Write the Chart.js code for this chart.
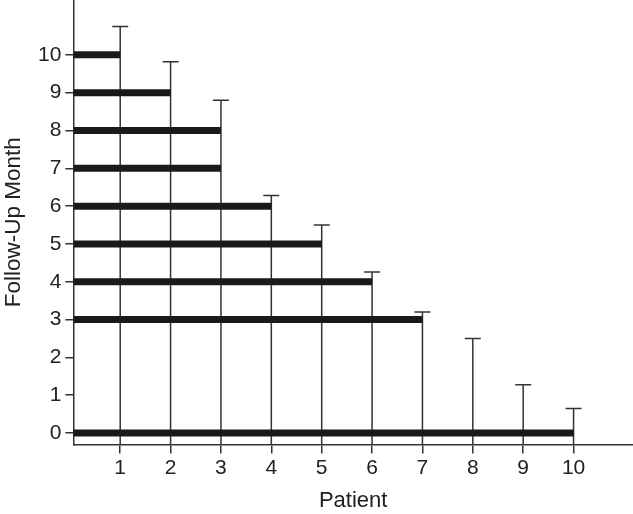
<!DOCTYPE html>
<html>
<head>
<meta charset="utf-8">
<script src="https://cdn.jsdelivr.net/npm/chart.js@4.4.1/dist/chart.umd.min.js"></script>
<style>
  html, body { margin: 0; padding: 0; background: #fff; }
  #wrap { width: 633px; height: 514px; position: relative; }
</style>
</head>
<body>
<div id="wrap"><canvas id="chart"></canvas></div>
<script>
// patients on the x axis, follow-up month ticks on the y axis
const patients = [1, 2, 3, 4, 5, 6, 7, 8, 9, 10];
const monthTicks = [0, 1, 2, 3, 4, 5, 6, 7, 8, 9, 10];

// height of each patient's vertical line (top cap)
const capHeights = [10.75, 9.82, 8.8, 6.28, 5.5, 4.26, 3.2, 2.5, 1.28, 0.65];

// thick horizontal bars: month level and the patient they reach
const barMonths = [10, 9, 8, 7, 6, 5, 4, 3, 0];
const barEnds = [1, 2, 3, 3, 4, 5, 6, 7, 10];

const X_MIN = 0.07, X_MAX = 11.18;
const Y_MIN = -0.3, Y_MAX = 11.45;

const ink = "#333";
const barInk = "#1a1a1a";
const font = "'Liberation Sans', Arial, sans-serif";

const datasets = [];

// vertical lines with a cap on top
patients.forEach((p, i) => {
  datasets.push({
    data: [{ x: p, y: Y_MIN }, { x: p, y: capHeights[i] }],
    borderColor: ink,
    borderWidth: 1.5,
    pointRadius: [0, 8],
    pointStyle: "line",
    pointBorderColor: ink,
    pointBorderWidth: 1.5,
    order: 2
  });
});

// horizontal bars
barMonths.forEach((m, i) => {
  datasets.push({
    data: [{ x: X_MIN, y: m }, { x: barEnds[i], y: m }],
    borderColor: barInk,
    borderWidth: 7,
    borderCapStyle: "butt",
    pointRadius: 0,
    order: 1
  });
});

// the axes run right to the canvas edge, so drop the label padding
function noEdgePadding(s) {
  s.paddingTop = 0;
  s.paddingRight = 0;
  s.paddingLeft = 0;
}

new Chart(document.getElementById("chart"), {
  type: "scatter",
  data: { datasets },
  options: {
    responsive: true,
    maintainAspectRatio: false,
    animation: false,
    showLine: true,
    layout: { padding: 0, autoPadding: false },
    plugins: { legend: { display: false }, tooltip: { enabled: false } },
    scales: {
      x: {
        type: "linear",
        min: X_MIN,
        max: X_MAX,
        afterBuildTicks: (s) => { s.ticks = patients.map(v => ({ value: v })); },
        afterFit: noEdgePadding,
        border: { display: true, color: ink, width: 1.5 },
        grid: { drawOnChartArea: false, color: ink, lineWidth: 1.5, tickLength: 9 },
        ticks: { color: "#222", font: { family: font, size: 21 }, padding: 2, maxRotation: 0 },
        title: { display: true, text: "Patient", color: "#222", font: { family: font, size: 22 }, padding: { top: 5, bottom: 0 } }
      },
      y: {
        type: "linear",
        min: Y_MIN,
        max: Y_MAX,
        afterBuildTicks: (s) => { s.ticks = monthTicks.map(v => ({ value: v })); },
        afterFit: noEdgePadding,
        border: { display: true, color: ink, width: 1.5 },
        grid: { drawOnChartArea: false, color: ink, lineWidth: 1.5, tickLength: 8 },
        ticks: { color: "#222", font: { family: font, size: 21 }, padding: 4 },
        title: { display: true, text: "Follow-Up Month", color: "#222", font: { family: font, size: 22.5 }, padding: { top: 0, bottom: 7 } }
      }
    }
  }
});
</script>
</body>
</html>
